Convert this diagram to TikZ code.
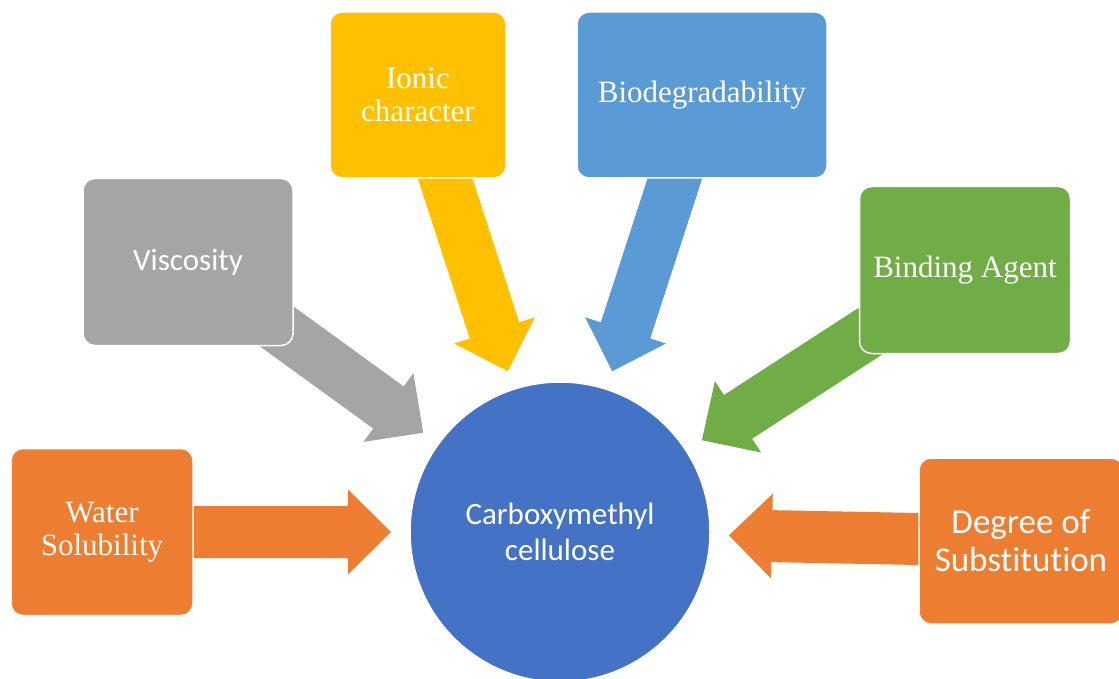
\documentclass[tikz,border=0pt]{standalone}
\usepackage{fontspec}
\setmainfont{Liberation Serif}
\setsansfont{Carlito}[Ligatures=NoCommon]
\usepackage{xcolor}
\usetikzlibrary{positioning, calc, backgrounds}

\definecolor{cmcblue}{HTML}{4472C4}
\definecolor{cmcorange}{HTML}{ED7D31}
\definecolor{cmcgray}{HTML}{A5A5A5}
\definecolor{cmcgold}{HTML}{FFC000}
\definecolor{cmcsky}{HTML}{5B9BD5}
\definecolor{cmcgreen}{HTML}{70AD47}

\begin{document}
\begin{tikzpicture}[x=1pt, y=-1pt, on grid,
    box/.style={rectangle, rounded corners=12pt, draw=white, line width=1.5pt,
      text=white, minimum height=167pt, inner sep=0pt, align=center},
    serif/.style={font=\fontsize{31}{33}\selectfont},
    sans/.style={font=\sffamily\fontsize{31}{36}\selectfont},
    hub/.style={circle, fill=cmcblue, draw=white, line width=1.5pt,
      minimum size=300pt, inner sep=0pt, text=white, align=center}]
      \useasboundingbox (0,0) rectangle (1119,679);

      \node[hub, sans] (cmc) at (560,532) {Carboxymethyl\\cellulose};
      \node[box, serif, fill=cmcorange, minimum width=182pt] (water) [left=458pt of cmc] {Water\\Solubility};
      \node[box, sans, fill=cmcgray, minimum width=210pt] (visc) [above left=270pt and 372pt of cmc] {Viscosity};
      \node[box, serif, fill=cmcgold, minimum width=176pt, minimum height=166pt] (ionic) [above left=437pt and 142pt of cmc] {Ionic\\character};
      \node[box, serif, fill=cmcsky, minimum width=250pt, minimum height=166pt] (bio) [above right=437pt and 142pt of cmc] {Biodegradability};
      \node[box, serif, fill=cmcgreen, minimum width=211pt] (bind) [above right=262pt and 405pt of cmc] {Binding Agent};
      \node[box, sans, font=\sffamily\fontsize{35}{38}\selectfont, fill=cmcorange, minimum width=204pt, minimum height=166pt] (degree) [below right=9pt and 461pt of cmc] {Degree of\\Substitution};

      % block arrows behind the boxes
      \begin{scope}[on background layer]
        \foreach \b/\c in {water/cmcorange, visc/cmcgray, ionic/cmcgold, bio/cmcsky, bind/cmcgreen, degree/cmcorange} {
          \coordinate (tip) at ($(cmc.center)!169pt!(\b.center)$);
          \coordinate (base) at ($(cmc.center)!212pt!(\b.center)$);
          \fill[\c] ($(\b.center)!26pt!90:(cmc.center)$) -- ($(base)!26pt!90:(cmc.center)$)
            -- ($(base)!42.5pt!90:(cmc.center)$) -- (tip)
            -- ($(base)!42.5pt!-90:(cmc.center)$) -- ($(base)!26pt!-90:(cmc.center)$)
            -- ($(\b.center)!26pt!-90:(cmc.center)$) -- cycle;
        }
      \end{scope}
    \end{tikzpicture}
\end{document}
